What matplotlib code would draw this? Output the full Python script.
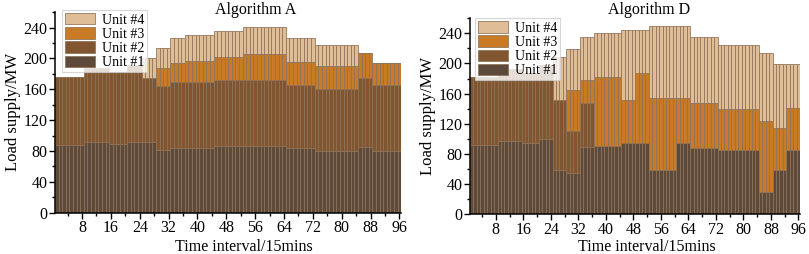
import numpy as np
import matplotlib

matplotlib.use("Agg")
import matplotlib.pyplot as plt
from matplotlib.ticker import MultipleLocator

plt.rcParams["font.family"] = ["Liberation Serif", "DejaVu Serif"]

UNITS = ["Unit #1", "Unit #2", "Unit #3", "Unit #4"]
COLORS = ["#5e4a3b", "#80552f", "#c97a25", "#dfbd96"]

# Algorithm A: run lengths (15-min intervals) and MW per unit in each run
a_runs = [8, 7, 5, 4, 4, 4, 4, 8, 8, 12, 8, 12, 4, 8]
a_unit1 = [88, 92, 89, 92, 91, 81, 84, 84, 86, 87, 84, 80, 85, 80]
a_unit2 = [88, 95, 93, 99, 83, 83, 85, 86, 86, 85, 81, 80, 90, 85]
a_unit3 = [0, 0, 0, 0, 0, 23, 25, 27, 30, 34, 30, 30, 32, 29]
a_unit4 = [0, 0, 0, 0, 27, 26, 32, 34, 34, 35, 32, 28, 0, 0]

# Algorithm D
d_runs = [8, 7, 5, 4, 4, 4, 4, 8, 4, 4, 8, 4, 8, 12, 4, 4, 4]
d_unit1 = [92, 97, 94, 100, 58, 55, 89, 91, 94, 94, 58, 95, 88, 85, 30, 58, 85]
d_unit2 = [90, 96, 94, 98, 94, 55, 58, 0, 0, 0, 0, 0, 0, 0, 0, 0, 0]
d_unit3 = [0, 0, 0, 0, 0, 55, 31, 91, 58, 94, 96, 59, 59, 55, 93, 57, 56]
d_unit4 = [0, 0, 0, 0, 57, 54, 57, 58, 93, 57, 96, 96, 88, 84, 91, 84, 58]


def draw(fig, ax, runs, units, title, title_x, xlabel_x, legend_anchor):
    x = np.arange(1, 97)
    bottom = np.zeros(96)
    handles = []
    for vals, color, name in zip(units, COLORS, UNITS):
        h = np.repeat(vals, runs).astype(float)
        bars = ax.bar(x, h, width=1.0, bottom=bottom, color=color,
                      edgecolor="#8d7157", linewidth=0.55, label=name)
        handles.append(bars)
        bottom += h

    ax.set_xlim(0.5, 96.5)
    ax.set_ylim(0, 260)
    ax.xaxis.set_minor_locator(MultipleLocator(4))
    ax.yaxis.set_major_locator(MultipleLocator(40))
    ax.yaxis.set_minor_locator(MultipleLocator(20))
    ax.set_xticks(np.arange(8, 97, 8))
    ax.tick_params(which="major", direction="out", length=4, width=1,
                   labelsize=11.5, pad=1.5)
    ax.tick_params(which="minor", direction="out", length=2.5, width=1)
    for s in ("top", "right"):
        ax.spines[s].set_visible(False)
    for s in ("left", "bottom"):
        ax.spines[s].set_linewidth(1.1)

    ax.set_ylabel("Load supply/MW", fontsize=12, labelpad=2)
    fig.text(xlabel_x, 0.028, "Time interval/15mins", ha="center",
             va="center", fontsize=11.5)
    fig.text(title_x, 0.992, title, ha="center", va="top", fontsize=11.5)

    leg = ax.legend(handles[::-1], UNITS[::-1], loc="upper left",
                    bbox_to_anchor=legend_anchor, borderaxespad=0,
                    fontsize=10, frameon=True, fancybox=False,
                    handlelength=2.2, handleheight=0.9, handletextpad=0.5,
                    labelspacing=0.05, borderpad=0.2, edgecolor="#cccccc")
    leg.get_frame().set_linewidth(0.8)
    leg.set_zorder(5)


fig = plt.figure(figsize=(8.09, 2.54), dpi=100)
ax1 = fig.add_axes([0.068, 0.163, 0.428, 0.789])
ax2 = fig.add_axes([0.581, 0.157, 0.408, 0.771])

draw(fig, ax1, a_runs, [a_unit1, a_unit2, a_unit3, a_unit4], "Algorithm A",
     0.316, 0.302, (0.02, 1.01))
draw(fig, ax2, d_runs, [d_unit1, d_unit2, d_unit3, d_unit4], "Algorithm D",
     0.802, 0.80, (0.015, 1.0))

fig.savefig("out.png", dpi=100)
plt.close(fig)
